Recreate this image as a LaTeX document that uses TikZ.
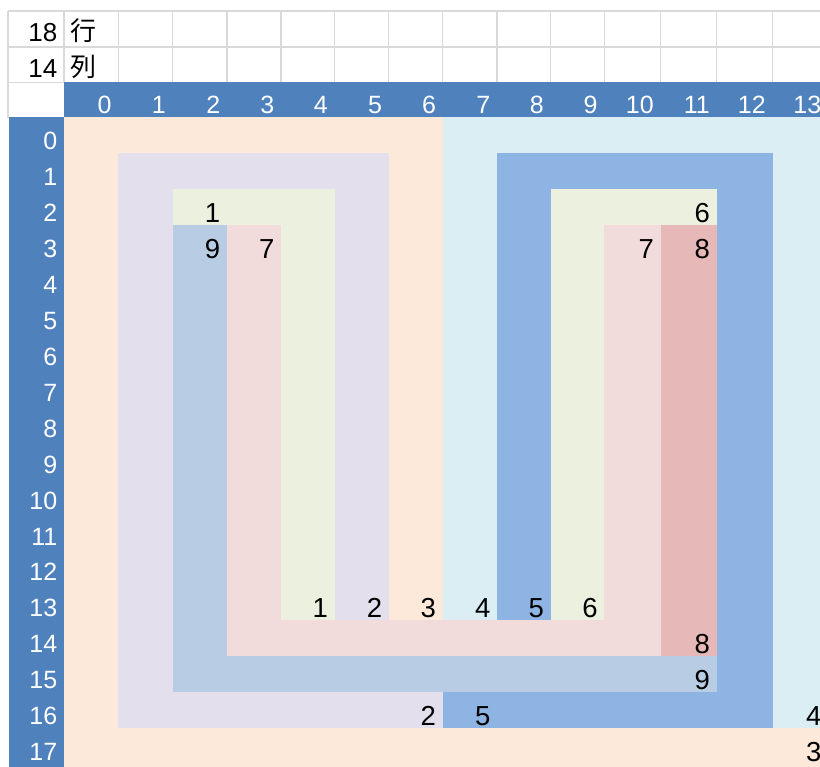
\documentclass[tikz,border=0pt]{standalone}
\usepackage{fontspec}
\setmainfont{Liberation Sans}
\newfontfamily\jpfont{Noto Sans CJK JP}
\usetikzlibrary{calc}
\definecolor{hdr}{HTML}{4F81BD}
\definecolor{gridgray}{HTML}{D9D9D9}
\definecolor{peach}{HTML}{FDE9D9}
\definecolor{lavender}{HTML}{E4DFEC}
\definecolor{lgreen}{HTML}{EBF1DE}
\definecolor{lblue}{HTML}{B8CCE4}
\definecolor{lpink}{HTML}{F2DCDB}
\definecolor{dpink}{HTML}{E6B8B7}
\definecolor{lcyan}{HTML}{DAEEF3}
\definecolor{mblue}{HTML}{8DB4E2}
\newcommand\blk[5]{\fill[#5] (c#1 |- r#2) rectangle (c#3 |- r#4);}
% #1 = column end boundary index, #2 = row start index
\newcommand\cellnum[3]{\node[cellnumber] (n#1-#2) at ($(c#1)+(r#2)+(-6.5,32.9)$) {#3};}
\begin{document}
\begin{tikzpicture}[x=1pt,y=-1pt,
  gridline/.style={draw=gridgray,line width=1.3pt},
  hdrnum/.style={text=white,font=\fontsize{25}{25}\selectfont,inner sep=0pt,anchor=base east},
  cellnumber/.style={text=black,font=\fontsize{27.5}{27.5}\selectfont,inner sep=0pt,anchor=base east},
  toptxt/.style={text=black,font=\fontsize{26}{26}\selectfont,inner sep=0pt},
]
\useasboundingbox (0,0) rectangle (820,767);
\clip (0,0) rectangle (820,767);
\fill[white] (0,0) rectangle (820,767);
% column and row boundaries
\foreach \i/\x in {0/64,1/118.3,2/172.6,3/226.9,4/281,5/334.5,6/388.8,7/442.7,8/497,9/550.5,10/604.3,11/660.5,12/716.5,13/772.5,14/828}
  \coordinate (c\i) at (\x,0);
\foreach \i in {0,...,17}
  \coordinate (r\i) at (0,117.5+35.92*\i);
\coordinate (r18) at (0,770);
% grid lines of the top rows
\foreach \yy in {11,47,82.5}
  \draw[gridline] (8,\yy) -- (820,\yy);
\draw[gridline] (8,11) -- (8,117.5) -- (64,117.5);
\foreach \i in {0,...,13}
  \draw[gridline] ($(c\i)+(0,11)$) -- ($(c\i)+(0,82.5)$);
% header bars
\fill[hdr] (64,82.5) rectangle (820,117.5);
\fill[hdr] (9,117.5) rectangle (64,767);
% coloured regions
\blk{0}{0}{7}{1}{peach}
\blk{0}{0}{1}{18}{peach}
\blk{6}{0}{7}{14}{peach}
\blk{0}{17}{14}{18}{peach}
\blk{1}{1}{6}{2}{lavender}
\blk{1}{1}{2}{17}{lavender}
\blk{5}{1}{6}{14}{lavender}
\blk{1}{16}{7}{17}{lavender}
\blk{2}{2}{5}{3}{lgreen}
\blk{4}{2}{5}{14}{lgreen}
\blk{9}{2}{12}{3}{lgreen}
\blk{9}{2}{10}{14}{lgreen}
\blk{2}{3}{3}{16}{lblue}
\blk{2}{15}{12}{16}{lblue}
\blk{3}{3}{4}{15}{lpink}
\blk{3}{14}{11}{15}{lpink}
\blk{10}{3}{11}{15}{lpink}
\blk{11}{3}{12}{15}{dpink}
\blk{7}{0}{14}{1}{lcyan}
\blk{7}{0}{8}{14}{lcyan}
\blk{13}{0}{14}{17}{lcyan}
\blk{8}{1}{13}{2}{mblue}
\blk{8}{1}{9}{14}{mblue}
\blk{12}{1}{13}{17}{mblue}
\blk{7}{16}{13}{17}{mblue}
% header numbers
\foreach \k [evaluate=\k as \kk using int(\k+1)] in {0,...,13}
  \node[hdrnum] (h\k) at ($(c\kk)+(-6.5,113.5)$) {\k};
\foreach \k in {0,...,17}
  \node[hdrnum] (v\k) at ($(r\k)+(57.5,32.4)$) {\k};
% top texts
\node[toptxt,anchor=base east] (t18) at (57.5,41.5) {18};
\node[toptxt,anchor=base west] (tgyo) at (70,40.5) {\jpfont 行};
\node[toptxt,anchor=base east] (t14) at (57.5,78) {14};
\node[toptxt,anchor=base west] (tretsu) at (70,77) {\jpfont 列};
% cell numbers
\cellnum{3}{2}{1}
\cellnum{3}{3}{9}
\cellnum{4}{3}{7}
\cellnum{12}{2}{6}
\cellnum{11}{3}{7}
\cellnum{12}{3}{8}
\cellnum{5}{13}{1}
\cellnum{6}{13}{2}
\cellnum{7}{13}{3}
\cellnum{8}{13}{4}
\cellnum{9}{13}{5}
\cellnum{10}{13}{6}
\cellnum{12}{14}{8}
\cellnum{12}{15}{9}
\cellnum{7}{16}{2}
\cellnum{8}{16}{5}
\cellnum{14}{16}{4}
\cellnum{14}{17}{3}
\end{tikzpicture}
\end{document}
